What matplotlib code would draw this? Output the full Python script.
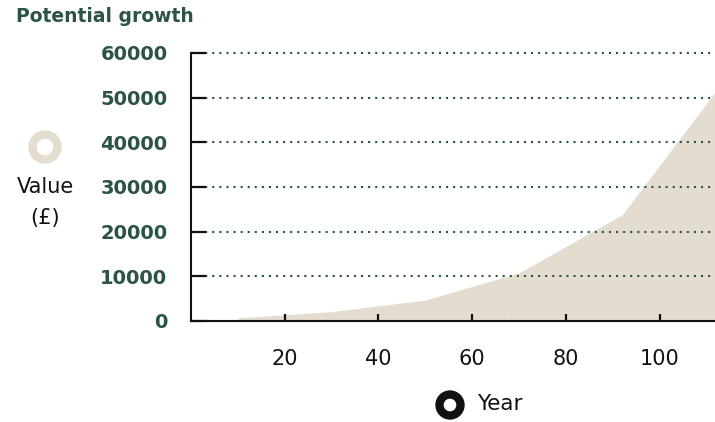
import matplotlib
matplotlib.use("Agg")
import matplotlib.pyplot as plt
from matplotlib.patches import Circle

# Data
years = [10, 30, 50, 70, 92, 112]
values = [700, 2100, 4700, 10800, 23800, 51500]
x_ticks = [20, 40, 60, 80, 100]
y_ticks = [0, 10000, 20000, 30000, 40000, 50000, 60000]
title = "Potential growth"
y_label_lines = ["Value", "(£)"]
x_label = "Year"

GREEN = "#2b5443"
FILL = "#e4dccf"
BLACK = "#111111"

W, H = 715, 422
fig = plt.figure(figsize=(W / 100, H / 100), dpi=100)
plt.rcParams['font.family'] = ['DejaVu Sans']

def fx(px):
    return px / W

def fy(py):
    return 1 - py / H

ax = fig.add_axes([fx(191), fy(321), fx(715) - fx(191), fy(53) - fy(321)])
ax.fill_between(years, values, 0, color=FILL, linewidth=0, zorder=1)
ax.set_xlim(0, 111.8)
ax.set_ylim(0, 60000)

ax.set_xticks(x_ticks)
ax.set_xticklabels([str(t) for t in x_ticks])
ax.set_yticks(y_ticks)
ax.set_yticklabels([str(t) for t in y_ticks])

for s in ["top", "right"]:
    ax.spines[s].set_visible(False)
for s in ["left", "bottom"]:
    ax.spines[s].set_linewidth(1.5)
    ax.spines[s].set_color(BLACK)
    ax.spines[s].set_zorder(5)

ax.tick_params(axis="y", direction="in", length=10.5, width=1.6, color=BLACK,
               pad=17, labelsize=14, labelcolor=GREEN)
ax.tick_params(axis="x", direction="in", length=5, width=1.6, color=BLACK,
               pad=20, labelsize=15, labelcolor=BLACK)
for lab in ax.get_yticklabels():
    lab.set_fontweight("bold")

ax.yaxis.grid(True, color=GREEN, linewidth=1.5, linestyle=(0, (1, 2.4)), zorder=2)
ax.xaxis.grid(False)
ax.set_axisbelow(False)
for gl in ax.get_ygridlines():
    gl.set_zorder(2)
    gl.set_clip_on(False)

# Title
fig.text(fx(16), fy(17), title, color=GREEN, fontsize=13.5, fontweight="bold",
         ha="left", va="center")

# Value label with ring icon
fig.text(fx(45), fy(187), y_label_lines[0], color=BLACK, fontsize=15,
         ha="center", va="center")
fig.text(fx(45), fy(218), y_label_lines[1], color=BLACK, fontsize=15,
         ha="center", va="center")

ov = fig.add_axes([0, 0, 1, 1], zorder=10)
ov.set_xlim(0, W)
ov.set_ylim(H, 0)
ov.axis("off")
ov.set_aspect("equal")
ov.add_patch(Circle((45, 147), 12.5, facecolor="none", edgecolor=FILL, linewidth=6))
ov.add_patch(Circle((450, 405), 10.5, facecolor="none", edgecolor=BLACK, linewidth=6))

fig.text(fx(477), fy(404), x_label, color=BLACK, fontsize=15.5,
         ha="left", va="center")

fig.savefig("out.png", dpi=100)
